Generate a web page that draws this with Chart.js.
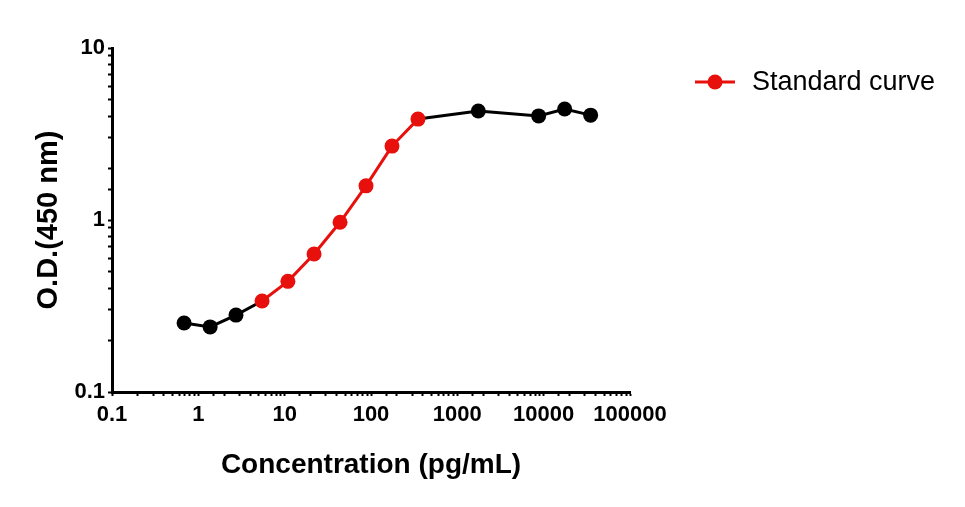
<!DOCTYPE html>
<html>
<head>
<meta charset="utf-8">
<script src="https://cdn.jsdelivr.net/npm/chart.js@4"></script>
<style>
  html, body { margin: 0; padding: 0; background: #fff; }
  #wrap { width: 965px; height: 507px; }
</style>
</head>
<body>
<div id="wrap"><canvas id="curve" width="965" height="507"></canvas></div>
<script>
// concentration (pg/mL) and OD readings
var concentration = [0.684, 1.37, 2.73, 5.47, 10.9, 21.9, 43.8, 87.5, 175, 350, 1750, 8750, 17500, 35000];
var odValues = [0.252, 0.239, 0.280, 0.338, 0.440, 0.634, 0.970, 1.58, 2.69, 3.86, 4.30, 4.03, 4.42, 4.07];
// points that belong to the standard range (drawn red)
var inStandard = [false, false, false, true, true, true, true, true, true, true, false, false, false, false];
var seriesLabel = 'Standard curve';
var xRange = [0.1, 100000];
var yRange = [0.1, 10];

var RED = '#e8100c';
var FONT = "'Liberation Sans', Arial, sans-serif";

function isDecade(v) {
    var l = Math.log10(v);
    return Math.abs(l - Math.round(l)) < 1e-9;
}

var points = concentration.map(function (c, i) { return { x: c, y: odValues[i] }; });

var legendPlugin = {
    id: 'sideLegend',
    afterDraw: function (chart) {
        var c = chart.ctx;
        var ds = chart.data.datasets[0];
        var y = 82;
        c.save();
        c.strokeStyle = RED;
        c.lineWidth = 3;
        c.beginPath();
        c.moveTo(695, y);
        c.lineTo(735, y);
        c.stroke();
        c.fillStyle = RED;
        c.beginPath();
        c.arc(715, y, 7.5, 0, Math.PI * 2);
        c.fill();
        c.fillStyle = '#000';
        c.font = '27px ' + FONT;
        c.textBaseline = 'middle';
        c.fillText(ds.label, 752, y + 1);
        c.restore();
    }
};

var ctx = document.getElementById('curve').getContext('2d');
var chart = new Chart(ctx, {
    type: 'line',
    data: {
        datasets: [{
            label: seriesLabel,
            data: points,
            borderColor: '#000',
            borderWidth: 3,
            tension: 0,
            pointRadius: 7.5,
            pointHoverRadius: 7.5,
            pointBorderWidth: 0,
            pointBackgroundColor: inStandard.map(function (s) { return s ? RED : '#000'; }),
            pointBorderColor: inStandard.map(function (s) { return s ? RED : '#000'; }),
            segment: {
                borderColor: function (s) {
                    return (inStandard[s.p0DataIndex] && inStandard[s.p1DataIndex]) ? RED : '#000';
                }
            }
        }]
    },
    options: {
        responsive: false,
        animation: false,
        layout: { padding: { left: 0, top: 48, right: 335, bottom: 0 } },
        plugins: {
            legend: { display: false },
            tooltip: { enabled: false }
        },
        scales: {
            x: {
                type: 'logarithmic',
                min: xRange[0],
                max: xRange[1],
                afterFit: function (s) { s.height = 115; },
                border: { color: '#000', width: 3 },
                grid: { drawOnChartArea: false, drawTicks: true, tickLength: 4, tickColor: '#000', tickWidth: 2 },
                ticks: {
                    autoSkip: false,
                    maxRotation: 0,
                    padding: 6,
                    color: '#000',
                    font: { family: FONT, size: 22, weight: 'bold' },
                    callback: function (v) { return isDecade(v) ? String(v) : ''; }
                },
                title: {
                    display: true,
                    text: 'Concentration (pg/mL)',
                    color: '#000',
                    font: { family: FONT, size: 28, weight: 'bold' },
                    padding: { top: 0, bottom: 25 }
                }
            },
            y: {
                type: 'logarithmic',
                min: yRange[0],
                max: yRange[1],
                afterFit: function (s) { s.width = 112; },
                border: { color: '#000', width: 3 },
                grid: { drawOnChartArea: false, drawTicks: true, tickLength: 4, tickColor: '#000', tickWidth: 2 },
                ticks: {
                    autoSkip: false,
                    padding: 3,
                    color: '#000',
                    font: { family: FONT, size: 22, weight: 'bold' },
                    callback: function (v) { return isDecade(v) ? String(v) : ''; }
                },
                title: {
                    display: true,
                    text: 'O.D.(450 nm)',
                    color: '#000',
                    font: { family: FONT, size: 29, weight: 'bold' },
                    padding: { top: 32, bottom: 0 }
                }
            }
        }
    },
    plugins: [legendPlugin]
});
</script>
</body>
</html>
